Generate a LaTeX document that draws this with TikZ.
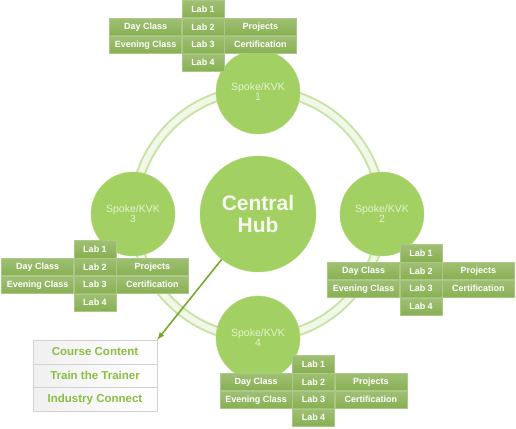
\documentclass[tikz,border=0pt]{standalone}
\usepackage{fontspec}
\setmainfont{Liberation Sans}
\usetikzlibrary{positioning, arrows}
\definecolor{hubgreen}{RGB}{163, 208, 98}
\definecolor{cellgreen}{RGB}{136, 176, 82}
\definecolor{ringlight}{RGB}{242, 248, 232}
\definecolor{ringedge}{RGB}{200, 226, 166}
\definecolor{spoketext}{RGB}{228, 242, 208}
\definecolor{listgreen}{RGB}{138, 190, 66}
\definecolor{arrowgreen}{RGB}{118, 168, 48}

\begin{document}
\begin{tikzpicture}[x=1pt, y=-1pt,
    cell/.style={rectangle, top color=cellgreen!80!white, bottom color=cellgreen, draw=cellgreen!70!white, inner sep=0pt, minimum height=17.5pt, text=white, font=\bfseries\fontsize{9}{10}\selectfont},
    labcell/.style={cell, minimum width=42pt},
    sidecell/.style={cell, minimum width=72pt},
    spoke/.style={circle, fill=hubgreen, draw=hubgreen!85!white, minimum size=84pt, inner sep=0pt, align=center, text=spoketext, font=\fontsize{10.5}{10}\selectfont},
    listbox/.style={rectangle, left color=gray!12, right color=white, draw=gray!35, minimum width=124pt, minimum height=23.3pt, inner sep=0pt, text=listgreen, font=\bfseries\fontsize{11.5}{12}\selectfont}]
    \useasboundingbox (0,0) rectangle (516,428);

    % Ring behind the spokes
    \coordinate (ctr) at (258,214);
    \draw[ringedge, line width=10pt] (ctr) circle (124);
    \draw[ringlight, line width=6pt] (ctr) circle (124);

    % Hub and spokes
    \node[spoke, minimum size=116pt, text=white!90!hubgreen, font=\bfseries\fontsize{21}{22}\selectfont] (hub) at (ctr) {Central\\Hub};
    \node[spoke] (s1) at (258,92) {Spoke/KVK\\1};
    \node[spoke] (s2) at (382,214) {Spoke/KVK\\2};
    \node[spoke] (s3) at (133,214) {Spoke/KVK\\3};
    \node[spoke] (s4) at (258,338) {Spoke/KVK\\4};

    % Class and lab tables
    \foreach \n/\x/\y in {1/203/0, 2/421/244, 3/95/240, 4/313.5/355} {
        \node[labcell, anchor=north] (lab\n-1) at (\x,\y) {Lab 1};
        \node[labcell, below=0pt of lab\n-1] (lab\n-2) {Lab 2};
        \node[labcell, below=0pt of lab\n-2] (lab\n-3) {Lab 3};
        \node[labcell, below=0pt of lab\n-3] (lab\n-4) {Lab 4};
        \node[sidecell, left=0pt of lab\n-2] (day\n) {Day Class};
        \node[sidecell, left=0pt of lab\n-3] (eve\n) {Evening Class};
        \node[sidecell, right=0pt of lab\n-2] (proj\n) {Projects};
        \node[sidecell, right=0pt of lab\n-3] (cert\n) {Certification};
    }

    % Hub services
    \node[listbox] (course) at (95,351.7) {Course Content};
    \node[listbox, below=0pt of course] (trainer) {Train the Trainer};
    \node[listbox, below=0pt of trainer] (industry) {Industry Connect};
    \draw[arrowgreen, line width=1.6pt, -latex] (hub) -- (course.north east);
\end{tikzpicture}
\end{document}
